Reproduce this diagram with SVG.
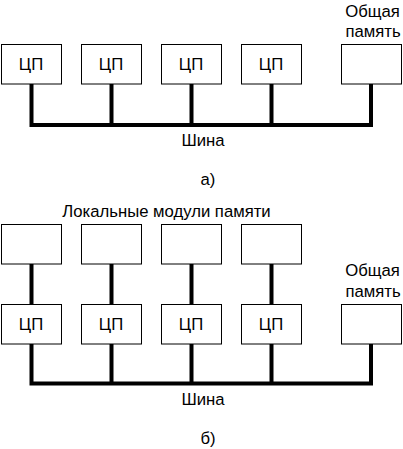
<svg xmlns="http://www.w3.org/2000/svg" width="403" height="449" viewBox="0 0 403 449">
<style>
.box{fill:#fff;stroke:#000;stroke-width:1}
.t{font-family:"Liberation Sans",Arial,sans-serif;font-size:16.7px;fill:#000;text-anchor:middle}
.bus{fill:none;stroke:#000;stroke-width:4;stroke-linejoin:miter;stroke-linecap:butt}
</style>
<rect width="403" height="449" fill="#fff"/>
<g id="connectors">
<path class="bus" d="M31.5 84 V125 H371 M111.5 84 V125 M191.5 84 V125 M271.5 84 V125 M371 84 V127"/>
<path class="bus" d="M31.5 344 V383.5 H371 M111.5 344 V383.5 M191.5 344 V383.5 M271.5 344 V383.5 M371 344 V385.5"/>
<path class="bus" d="M31.5 264 V304 M111.5 264 V304 M191.5 264 V304 M271.5 264 V304"/>
</g>
<g id="a-cpu1"><rect class="box" x="1.5" y="44.5" width="60" height="39.5"/><text class="t" x="31" y="70">ЦП</text></g>
<g id="a-cpu2"><rect class="box" x="81.5" y="44.5" width="60" height="39.5"/><text class="t" x="111" y="70">ЦП</text></g>
<g id="a-cpu3"><rect class="box" x="161.5" y="44.5" width="60" height="39.5"/><text class="t" x="191" y="70">ЦП</text></g>
<g id="a-cpu4"><rect class="box" x="241.5" y="44.5" width="60" height="39.5"/><text class="t" x="271" y="70">ЦП</text></g>
<g id="a-mem"><rect class="box" x="341.5" y="44.5" width="60" height="39.5"/><text class="t" x="372.5" y="17">Общая</text><text class="t" x="373" y="37">память</text></g>
<text class="t" x="203" y="145.5">Шина</text>
<text class="t" x="208" y="184.5">а)</text>
<text class="t" x="166.5" y="217">Локальные модули памяти</text>
<g id="b-lm1"><rect class="box" x="1.5" y="224.5" width="60" height="39.5"/></g>
<g id="b-lm2"><rect class="box" x="81.5" y="224.5" width="60" height="39.5"/></g>
<g id="b-lm3"><rect class="box" x="161.5" y="224.5" width="60" height="39.5"/></g>
<g id="b-lm4"><rect class="box" x="241.5" y="224.5" width="60" height="39.5"/></g>
<g id="b-cpu1"><rect class="box" x="1.5" y="304.5" width="60" height="39.5"/><text class="t" x="31" y="330">ЦП</text></g>
<g id="b-cpu2"><rect class="box" x="81.5" y="304.5" width="60" height="39.5"/><text class="t" x="111" y="330">ЦП</text></g>
<g id="b-cpu3"><rect class="box" x="161.5" y="304.5" width="60" height="39.5"/><text class="t" x="191" y="330">ЦП</text></g>
<g id="b-cpu4"><rect class="box" x="241.5" y="304.5" width="60" height="39.5"/><text class="t" x="271" y="330">ЦП</text></g>
<g id="b-mem"><rect class="box" x="341.5" y="304.5" width="60" height="39.5"/><text class="t" x="372.5" y="276">Общая</text><text class="t" x="373" y="296.5">память</text></g>
<text class="t" x="203" y="405">Шина</text>
<text class="t" x="208" y="444">б)</text>
</svg>
